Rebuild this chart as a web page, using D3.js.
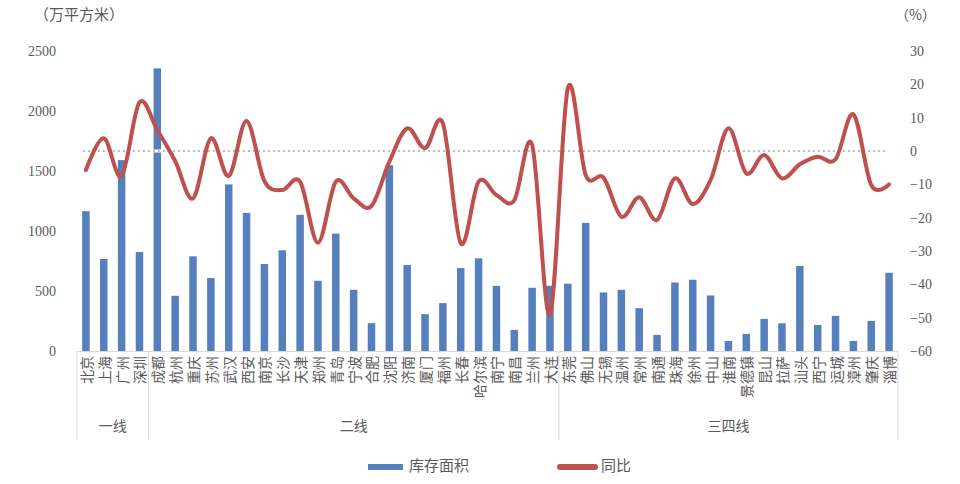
<!DOCTYPE html>
<html><head><meta charset="utf-8">
<script src="https://cdn.jsdelivr.net/npm/d3@7"></script>
<style>body{margin:0;background:#fff}svg{display:block}</style>
</head><body>
<svg id="c" width="960" height="484"></svg>
<script>
const cities = ["北京","上海","广州","深圳",
 "成都","杭州","重庆","苏州","武汉","西安","南京","长沙","天津","郑州","青岛","宁波","合肥","沈阳","济南","厦门","福州","长春","哈尔滨","南宁","南昌","兰州","大连",
 "东莞","佛山","无锡","温州","常州","南通","珠海","徐州","中山","淮南","景德镇","昆山","拉萨","汕头","西宁","运城","漳州","肇庆","淄博"];
const groups = [{name:"一线",count:4},{name:"二线",count:23},{name:"三四线",count:19}];
const inventory = [1165,767,1591,825,
 2355,460,789,608,1388,1151,725,839,1135,585,978,510,232,1549,717,307,399,691,772,543,176,527,543,
 561,1068,488,510,357,134,571,594,463,84,142,268,231,708,217,293,84,251,652];
const yoy = [-5.7,3.8,-7.5,14.6,
 6.3,-3.0,-14.2,3.8,-7.5,9.0,-9.0,-11.7,-9.2,-27.5,-9.2,-14.2,-16.5,-3.2,6.8,0.8,8.3,-27.7,-9.2,-13.2,-14.8,1.8,-49.0,
 18.8,-7.2,-8.0,-19.7,-13.9,-20.7,-8.2,-15.9,-8.7,6.8,-6.7,-1.2,-8.2,-4.0,-1.7,-2.5,11.0,-10.2,-10.0];
const leftTicks = [0,500,1000,1500,2000,2500];
const rightTicks = [-60,-50,-40,-30,-20,-10,0,10,20,30];

const svg = d3.select("#c");
const gray = "#595959";
const x = d3.scaleBand().domain(cities).range([77,898]).paddingInner(0.58).paddingOuter(0.29);
const yL = d3.scaleLinear().domain([0,2500]).range([351,51]);
const yR = d3.scaleLinear().domain([-60,30]).range([351,51]);

// bars
svg.append("g").selectAll("rect").data(cities).join("rect")
 .attr("x", d=>x(d)).attr("width", x.bandwidth())
 .attr("y", (d,i)=>yL(inventory[i])).attr("height",(d,i)=>yL(0)-yL(inventory[i]))
 .attr("fill","#5580bd");

// zero line
const cx = d=>x(d)+x.bandwidth()/2;
svg.append("line").attr("x1",cx(cities[0])-3).attr("x2",cx(cities[cities.length-1])-4)
 .attr("y1",yR(0)).attr("y2",yR(0)).attr("stroke","#fff").attr("stroke-width",3);
svg.append("line").attr("x1",cx(cities[0])-3).attr("x2",cx(cities[cities.length-1])-4)
 .attr("y1",yR(0)).attr("y2",yR(0)).attr("stroke","#bdbdbd").attr("stroke-width",2)
 .attr("stroke-dasharray","2,3");

// line
const line = d3.line().x((d,i)=>cx(cities[i])).y(d=>yR(d)).curve(d3.curveCardinal.tension(0));
svg.append("path").attr("d",line(yoy)).attr("fill","none").attr("stroke","#bf504d")
 .attr("stroke-width",4).attr("stroke-linecap","round").attr("stroke-linejoin","round");

// x axis line
svg.append("line").attr("x1",77).attr("x2",898).attr("y1",351.5).attr("y2",351.5).attr("stroke","#d9d9d9");
// group separators
let idx=0; const step=x.step(); const x0=x.range()[0];
const bounds=[0]; groups.forEach(g=>{idx+=g.count;bounds.push(idx);});
bounds.forEach(b=>{svg.append("line").attr("x1",x0+b*step).attr("x2",x0+b*step)
 .attr("y1",351).attr("y2",440).attr("stroke","#d9d9d9");});
groups.forEach((g,gi)=>{
 const mid = x0+(bounds[gi]+bounds[gi+1])/2*step;
 svg.append("text").attr("x",mid).attr("y",427).attr("text-anchor","middle")
  .attr("dominant-baseline","middle").attr("font-family","Noto Sans CJK SC").attr("font-size",14)
  .attr("fill",gray).text(g.name);
});
// category labels
svg.append("g").selectAll("text").data(cities).join("text")
 .attr("transform",d=>`translate(${cx(d)},356) rotate(-90)`)
 .attr("text-anchor","end").attr("dominant-baseline","central")
 .attr("font-family","Noto Sans CJK SC").attr("font-size",14).attr("fill",gray).text(d=>d);

// left axis
const la = svg.append("g").attr("transform","translate(62,0)")
 .call(d3.axisLeft(yL).tickValues(leftTicks).tickSize(0).tickPadding(6).tickFormat(d3.format("d")));
la.select(".domain").remove();
la.selectAll("text").attr("font-family","Liberation Serif").attr("font-size",14).attr("fill",gray);
// right axis
const ra = svg.append("g").attr("transform","translate(904,0)")
 .call(d3.axisRight(yR).tickValues(rightTicks).tickSize(0).tickPadding(6));
ra.select(".domain").remove();
ra.selectAll("text").attr("font-family","Liberation Serif").attr("font-size",14).attr("fill",gray);

// units
svg.append("text").attr("x",34).attr("y",16).attr("dominant-baseline","middle")
 .attr("font-family","Noto Sans CJK SC").attr("font-size",15).attr("fill",gray).text("（万平方米）");
svg.append("text").attr("x",895).attr("y",16).attr("dominant-baseline","middle")
 .attr("font-family","Noto Sans CJK SC").attr("font-size",14).attr("fill",gray).text("（%）");

// legend
const lg = svg.append("g");
lg.append("line").attr("x1",368).attr("x2",403).attr("y1",467).attr("y2",467).attr("stroke","#5580bd").attr("stroke-width",6);
lg.append("text").attr("x",409).attr("y",467).attr("dominant-baseline","middle")
 .attr("font-family","Noto Sans CJK SC").attr("font-size",15).attr("fill",gray).text("库存面积");
lg.append("line").attr("x1",560).attr("x2",595).attr("y1",467).attr("y2",467).attr("stroke","#bf504d").attr("stroke-width",6).attr("stroke-linecap","round");
lg.append("text").attr("x",601).attr("y",467).attr("dominant-baseline","middle")
 .attr("font-family","Noto Sans CJK SC").attr("font-size",15).attr("fill",gray).text("同比");
</script>
</body></html>
